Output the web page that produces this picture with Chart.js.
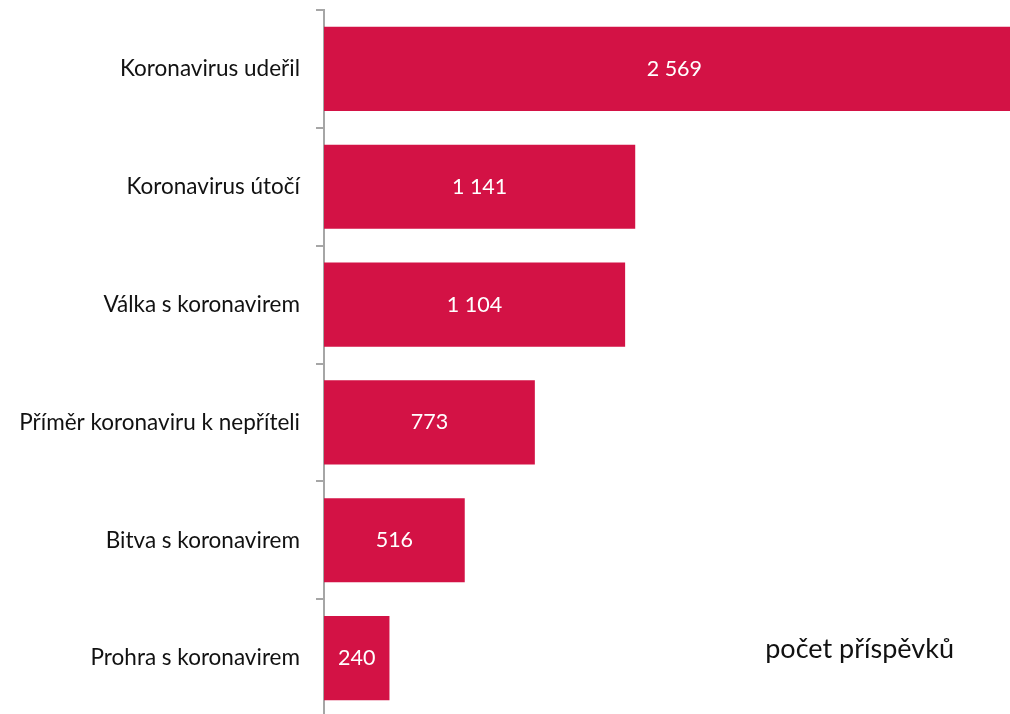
<!DOCTYPE html>
<html>
<head>
<meta charset="utf-8">
<script src="https://cdn.jsdelivr.net/npm/chart.js@4/dist/chart.umd.min.js"></script>
<style>
  html, body { margin: 0; padding: 0; background: #fff; overflow: hidden; }
  #wrap { position: relative; width: 1010px; height: 717px; }
</style>
</head>
<body>
<div id="wrap"><canvas id="chart"></canvas></div>
<script>
// --- Data ---
const categories = [
  'Koronavirus udeřil',
  'Koronavirus útočí',
  'Válka s koronavirem',
  'Příměr koronaviru k nepříteli',
  'Bitva s koronavirem',
  'Prohra s koronavirem'
];
const postCounts = [2569, 1141, 1104, 773, 516, 240];
const unitLabel = 'počet příspěvků';

const FONT = 'Lato, "Open Sans", sans-serif';
const BAR_RED = '#D31245';
const AXIS_GREY = '#A6A6A6';

// space-separated thousands like the original (2 569)
function fmt(v) {
  return String(v).replace(/\B(?=(\d{3})+(?!\d))/g, ' ');
}

// --- Labels inside bars + unit caption ---
const barLabels = {
  id: 'barLabels',
  afterDatasetsDraw(chart) {
    const ctx = chart.ctx;
    const meta = chart.getDatasetMeta(0);
    ctx.save();
    ctx.fillStyle = '#fff';
    ctx.font = '21.5px ' + FONT;
    ctx.textAlign = 'center';
    ctx.textBaseline = 'middle';
    meta.data.forEach((bar, i) => {
      ctx.fillText(fmt(postCounts[i]), (bar.x + bar.base) / 2, bar.y);
    });
    ctx.fillStyle = '#111';
    ctx.font = '27px ' + FONT;
    ctx.textAlign = 'right';
    ctx.textBaseline = 'alphabetic';
    ctx.fillText(unitLabel, chart.chartArea.right - 56, 658);
    ctx.restore();
  }
};

new Chart(document.getElementById('chart'), {
  type: 'bar',
  data: {
    labels: categories,
    datasets: [{
      data: postCounts,
      backgroundColor: BAR_RED,
      borderWidth: 0,
      barPercentage: 0.714,
      categoryPercentage: 1
    }]
  },
  options: {
    indexAxis: 'y',
    responsive: true,
    maintainAspectRatio: false,
    animation: false,
    layout: { padding: { top: 10, right: 0, bottom: 0, left: 0 } },
    plugins: {
      legend: { display: false },
      tooltip: { enabled: false }
    },
    scales: {
      x: {
        display: false,
        min: 0,
        max: 2515
      },
      y: {
        afterFit(scale) {
          scale.width = 324;
          scale.paddingTop = 0;
          scale.paddingBottom = 0;
        },
        grid: {
          offset: true,
          drawOnChartArea: false,
          tickLength: 8,
          color: AXIS_GREY,
          lineWidth: 2
        },
        border: { color: AXIS_GREY, width: 2 },
        ticks: {
          color: '#111',
          padding: 16,
          font: { family: FONT, size: 22.5 }
        }
      }
    }
  },
  plugins: [barLabels]
});
</script>
</body>
</html>
